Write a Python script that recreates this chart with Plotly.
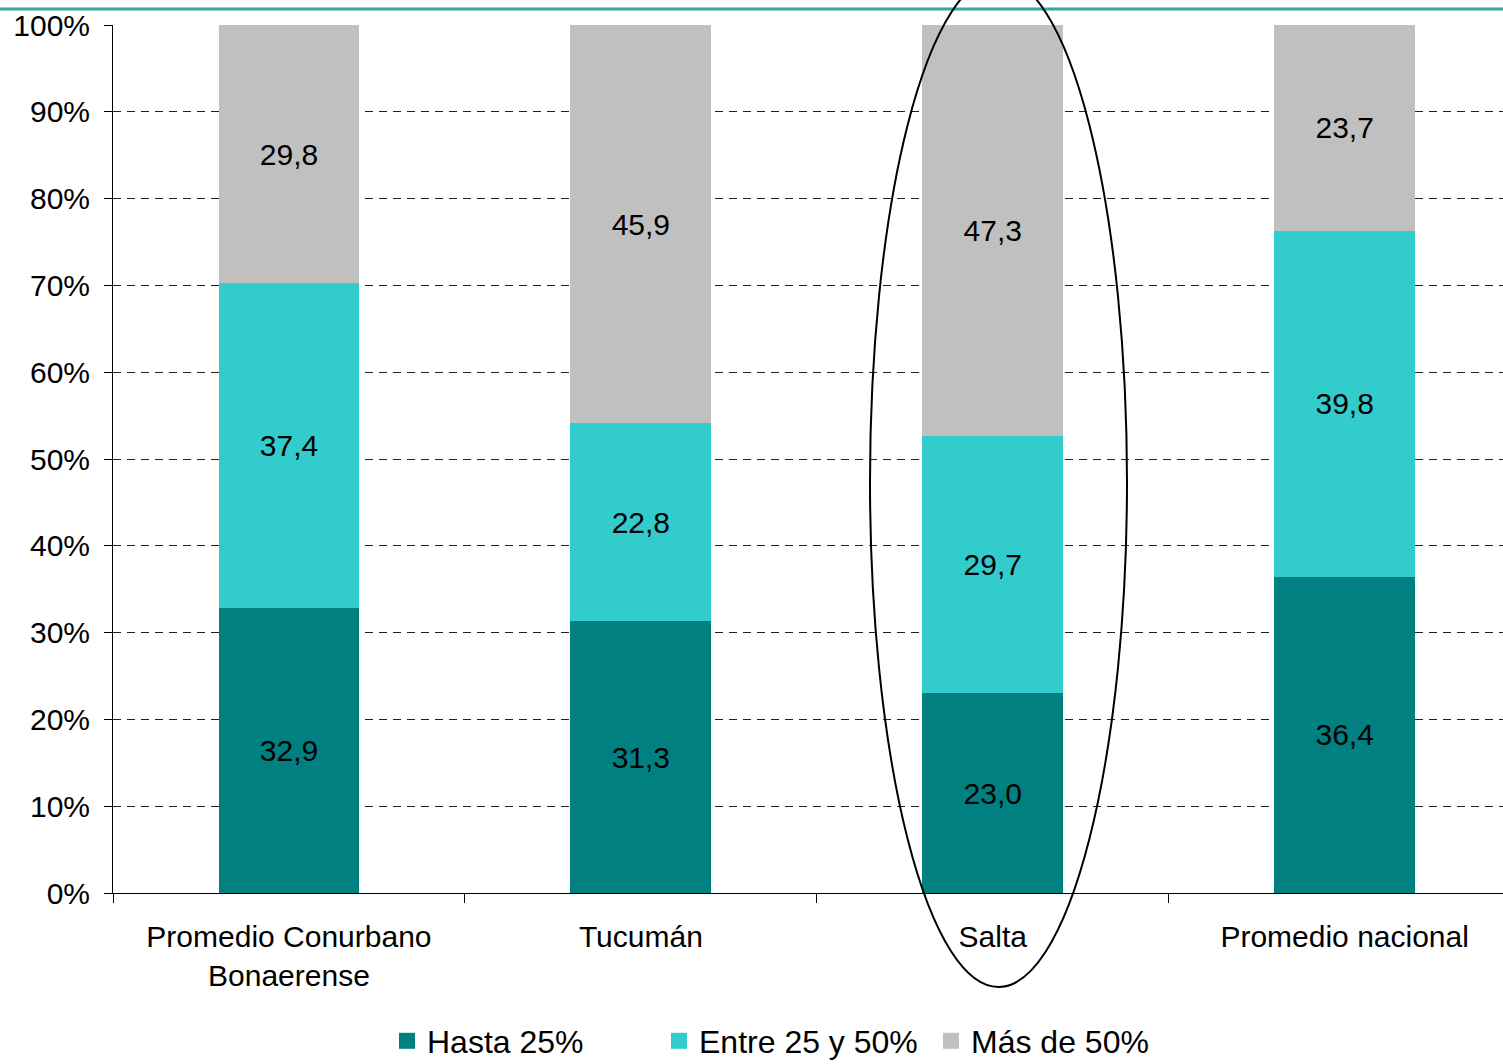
import plotly.graph_objects as go

categories = ["Promedio Conurbano<br>Bonaerense", "Tucumán", "Salta", "Promedio nacional"]
series_names = ["Hasta 25%", "Entre 25 y 50%", "Más de 50%"]
hasta_25 = [32.9, 31.3, 23.0, 36.4]
entre_25_50 = [37.4, 22.8, 29.7, 39.8]
mas_50 = [29.8, 45.9, 47.3, 23.7]
colors = ["#008080", "#33CCCC", "#C0C0C0"]
y_ticks = [0, 10, 20, 30, 40, 50, 60, 70, 80, 90, 100]
y_tick_labels = [f"{t}%" for t in y_ticks]

FONT = "Liberation Sans, Arial, sans-serif"

fig = go.Figure()
for name, vals, col in zip(series_names, [hasta_25, entre_25_50, mas_50], colors):
    fig.add_trace(go.Bar(
        x=categories, y=vals, name=name, showlegend=False,
        marker=dict(color=col, line=dict(width=0)),
        text=[f"{v:.1f}".replace(".", ",") for v in vals],
        textposition="inside", insidetextanchor="middle",
        textfont=dict(family=FONT, size=30, color="black"),
        width=0.4,
    ))
# legend entries with larger square swatches
for name, col in zip(series_names, colors):
    fig.add_trace(go.Scatter(
        x=[None], y=[None], mode="markers", name=name,
        marker=dict(symbol="square", size=20, color=col),
    ))

W, H = 1503, 1064
L, R, T, B = 113, 0, 25, 171
pw, ph = W - L - R, H - T - B

fig.update_layout(
    width=W, height=H,
    margin=dict(l=L, r=R, t=T, b=B, autoexpand=False),
    barmode="stack", barnorm="percent",
    plot_bgcolor="white", paper_bgcolor="white",
    font=dict(family=FONT, size=30, color="black"),
    xaxis=dict(
        range=[-0.5, 3.45], showline=True, linecolor="black", linewidth=1,
        ticks="outside", tickson="boundaries", ticklen=9, tickcolor="black",
        showgrid=False, tickfont=dict(size=30, family=FONT),
        ticklabelstandoff=17, automargin=False,
    ),
    yaxis=dict(
        range=[0, 100], tickvals=y_ticks, ticktext=y_tick_labels,
        showline=True, linecolor="black", linewidth=1,
        ticks="outside", ticklen=8, tickcolor="black",
        showgrid=True, gridcolor="#222222", gridwidth=1, griddash="8px,6px",
        zeroline=False, tickfont=dict(size=30, family=FONT),
        ticklabelstandoff=8, automargin=False,
    ),
    legend=dict(
        orientation="h", x=(795 - L) / pw, xanchor="center",
        y=(T + ph - 1041) / ph, yanchor="middle",
        font=dict(size=32, family=FONT), traceorder="normal",
        itemsizing="trace", itemwidth=30, entrywidth=227,
    ),
    showlegend=True,
)

# top teal rule
fig.add_shape(type="line", xref="paper", yref="paper",
              x0=-L / pw, x1=1, y0=(T + ph - 9) / ph, y1=(T + ph - 9) / ph,
              line=dict(color="#34A8A2", width=3))

# ellipse highlighting Salta
fig.add_shape(type="circle", xref="paper", yref="paper", layer="above",
              x0=(870 - L) / pw, x1=(1127 - L) / pw,
              y0=(T + ph - 987) / ph, y1=(T + ph + 23) / ph,
              line=dict(color="black", width=2))

fig.write_html("out.html", config={"displayModeBar": False},
               post_script="document.body.style.margin='0';")
